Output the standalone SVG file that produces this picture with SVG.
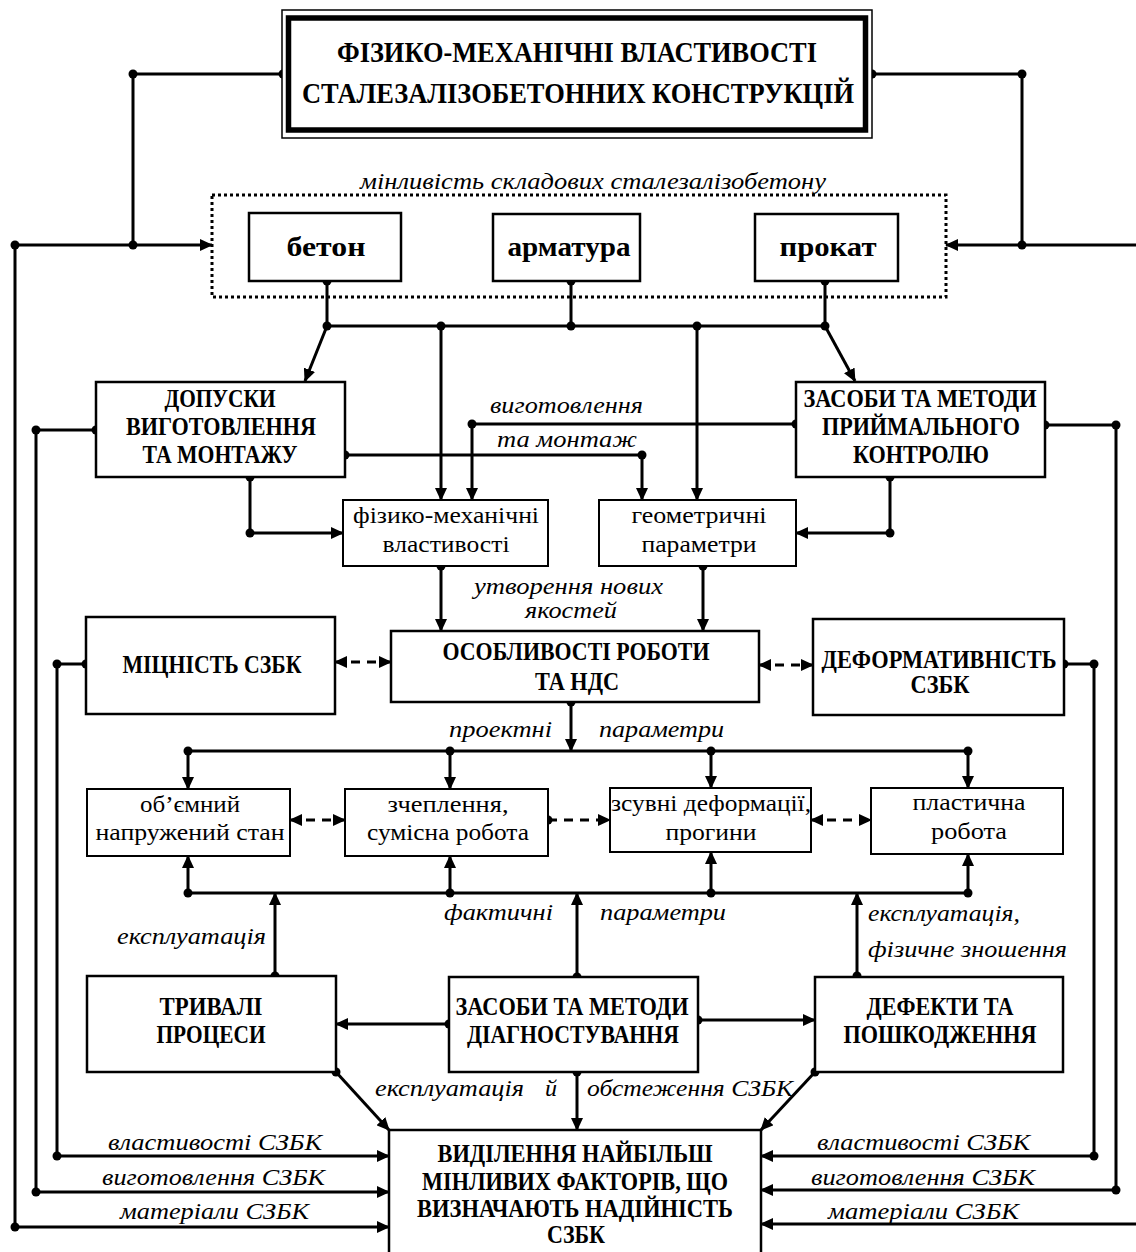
<svg xmlns="http://www.w3.org/2000/svg" width="1136" height="1252" viewBox="0 0 1136 1252">
<defs>
<marker id="ah" viewBox="0 0 13 12" refX="12" refY="6" markerWidth="13" markerHeight="12" markerUnits="userSpaceOnUse" orient="auto-start-reverse"><path d="M0,0 L13,6 L0,12 z" fill="#000"/></marker>
<style>
.box{fill:#fff;stroke:#000;stroke-width:2.5}
.sbox{fill:#fff;stroke:#000;stroke-width:2}
.ln{fill:none;stroke:#000;stroke-width:3}
.ar{marker-end:url(#ah)}
.dd{stroke-dasharray:9 7;marker-start:url(#ah);marker-end:url(#ah)}
.d1{stroke-dasharray:9 7;marker-end:url(#ah)}
.tb{font-family:"Liberation Serif",serif;font-weight:bold;font-size:25px;text-anchor:middle;fill:#000}
.tt{font-family:"Liberation Serif",serif;font-weight:bold;font-size:30px;text-anchor:middle;fill:#000}
.tl{font-family:"Liberation Serif",serif;font-weight:bold;font-size:28px;text-anchor:middle;fill:#000}
.tr{font-family:"Liberation Serif",serif;font-size:24px;text-anchor:middle;fill:#000}
.ti{font-family:"Liberation Serif",serif;font-style:italic;font-size:24px;fill:#000}
.dot{fill:#000}
</style>
</defs>
<rect width="1136" height="1252" fill="#fff"/>

<g id="connectors">
<path class="ln" d="M283,74 H133 V245"/>
<path class="ln" d="M872,74 H1022 V245"/>
<path class="ln" d="M15,245 V1227"/>
<path class="ln ar" d="M15,245 H212"/>
<path class="ln ar" d="M15,1227 H389"/>
<path class="ln ar" d="M1140,245 H946"/>
<path class="ln ar" d="M1140,1224 H761"/>
<path class="ln ar" d="M96,430 H36 V1192 H389"/>
<path class="ln ar" d="M86,664 H57 V1156 H389"/>
<path class="ln ar" d="M1064,664 H1094 V1156 H761"/>
<path class="ln ar" d="M1045,425 H1116 V1190 H761"/>

<path class="ln" d="M327,281 V326 M571,281 V326 M825,281 V326 M327,326 H825"/>
<path class="ln ar" d="M327,326 L305,381"/>
<path class="ln ar" d="M825,326 L855,381"/>
<path class="ln ar" d="M441,326 V500"/>
<path class="ln ar" d="M697,326 V500"/>
<path class="ln ar" d="M796,424 H472 V500"/>
<path class="ln ar" d="M345,455 H642 V500"/>
<path class="ln ar" d="M250,477 V533 H343"/>
<path class="ln ar" d="M890,477 V533 H796"/>
<path class="ln ar" d="M441,566 V631"/>
<path class="ln ar" d="M703,566 V631"/>
<path class="ln dd" d="M335,662 H391"/>
<path class="ln dd" d="M759,665 H813"/>
<path class="ln ar" d="M571,702 V751"/>
<path class="ln" d="M188,751 H968"/>
<path class="ln ar" d="M188,751 V789"/>
<path class="ln ar" d="M450,751 V789"/>
<path class="ln ar" d="M711,751 V788"/>
<path class="ln ar" d="M968,751 V788"/>
<path class="ln dd" d="M290,820 H345"/>
<path class="ln d1" d="M548,820 H610"/>
<path class="ln dd" d="M811,820 H871"/>
<path class="ln" d="M188,893 H968"/>
<path class="ln ar" d="M188,893 V856"/>
<path class="ln ar" d="M450,893 V856"/>
<path class="ln ar" d="M711,893 V852"/>
<path class="ln ar" d="M968,893 V854"/>
<path class="ln ar" d="M275,976 V893"/>
<path class="ln ar" d="M577,977 V893"/>
<path class="ln ar" d="M857,976 V893"/>
<path class="ln ar" d="M449,1024 H336"/>
<path class="ln ar" d="M698,1020 H815"/>
<path class="ln ar" d="M577,1072 V1130"/>
<path class="ln ar" d="M336,1072 L389,1130"/>
<path class="ln ar" d="M815,1072 L761,1130"/>

<g class="dot">
<circle cx="283" cy="74" r="4.5"/><circle cx="133" cy="74" r="4.5"/><circle cx="133" cy="245" r="4.5"/>
<circle cx="872" cy="74" r="4.5"/><circle cx="1022" cy="74" r="4.5"/><circle cx="1022" cy="245" r="4.5"/>
<circle cx="15" cy="245" r="4.5"/><circle cx="15" cy="1227" r="4.5"/>
<circle cx="96" cy="430" r="4.5"/><circle cx="36" cy="430" r="4.5"/><circle cx="36" cy="1192" r="4.5"/>
<circle cx="86" cy="664" r="4.5"/><circle cx="57" cy="664" r="4.5"/><circle cx="57" cy="1156" r="4.5"/>
<circle cx="1064" cy="664" r="4.5"/><circle cx="1094" cy="664" r="4.5"/><circle cx="1094" cy="1156" r="4.5"/>
<circle cx="1045" cy="425" r="4.5"/><circle cx="1116" cy="425" r="4.5"/><circle cx="1116" cy="1190" r="4.5"/>
<circle cx="327" cy="281" r="4.5"/><circle cx="571" cy="281" r="4.5"/><circle cx="825" cy="281" r="4.5"/>
<circle cx="327" cy="326" r="4.5"/><circle cx="441" cy="326" r="4.5"/><circle cx="571" cy="326" r="4.5"/><circle cx="697" cy="326" r="4.5"/><circle cx="825" cy="326" r="4.5"/>
<circle cx="796" cy="424" r="4.5"/><circle cx="472" cy="424" r="4.5"/>
<circle cx="345" cy="455" r="4.5"/><circle cx="642" cy="455" r="4.5"/>
<circle cx="250" cy="477" r="4.5"/><circle cx="250" cy="533" r="4.5"/>
<circle cx="890" cy="477" r="4.5"/><circle cx="890" cy="533" r="4.5"/>
<circle cx="441" cy="566" r="4.5"/><circle cx="703" cy="566" r="4.5"/>
<circle cx="571" cy="702" r="4.5"/>
<circle cx="188" cy="751" r="4.5"/><circle cx="450" cy="751" r="4.5"/><circle cx="711" cy="751" r="4.5"/><circle cx="968" cy="751" r="4.5"/>
<circle cx="548" cy="820" r="4.5"/>
<circle cx="188" cy="893" r="4.5"/><circle cx="450" cy="893" r="4.5"/><circle cx="711" cy="893" r="4.5"/><circle cx="968" cy="893" r="4.5"/>
<circle cx="275" cy="976" r="4.5"/><circle cx="577" cy="977" r="4.5"/><circle cx="857" cy="976" r="4.5"/>
<circle cx="449" cy="1024" r="4.5"/><circle cx="698" cy="1020" r="4.5"/>
<circle cx="577" cy="1072" r="4.5"/><circle cx="336" cy="1072" r="4.5"/><circle cx="815" cy="1072" r="4.5"/>
</g>

<g id="labels">
<text class="ti" x="490" y="413" textLength="153" lengthAdjust="spacingAndGlyphs">виготовлення</text>
<text class="ti" x="497" y="447" textLength="140" lengthAdjust="spacingAndGlyphs">та монтаж</text>
<text class="ti" x="474" y="594" textLength="189" lengthAdjust="spacingAndGlyphs">утворення нових</text>
<text class="ti" x="525" y="618" textLength="92" lengthAdjust="spacingAndGlyphs">якостей</text>
<text class="ti" x="449" y="737" textLength="103" lengthAdjust="spacingAndGlyphs">проектні</text>
<text class="ti" x="599" y="737" textLength="125" lengthAdjust="spacingAndGlyphs">параметри</text>
<text class="ti" x="444" y="920" textLength="109" lengthAdjust="spacingAndGlyphs">фактичні</text>
<text class="ti" x="600" y="920" textLength="126" lengthAdjust="spacingAndGlyphs">параметри</text>
<text class="ti" x="117" y="944" textLength="149" lengthAdjust="spacingAndGlyphs">експлуатація</text>
<text class="ti" x="868" y="921" textLength="152" lengthAdjust="spacingAndGlyphs">експлуатація,</text>
<text class="ti" x="868" y="957" textLength="199" lengthAdjust="spacingAndGlyphs">фізичне зношення</text>
<text class="ti" x="375" y="1096" textLength="149" lengthAdjust="spacingAndGlyphs">експлуатація</text>
<text class="ti" x="545" y="1096">й</text>
<text class="ti" x="587" y="1096" textLength="206" lengthAdjust="spacingAndGlyphs">обстеження СЗБК</text>
<text class="ti" x="108" y="1150" textLength="214" lengthAdjust="spacingAndGlyphs">властивості СЗБК</text>
<text class="ti" x="102" y="1185" textLength="223" lengthAdjust="spacingAndGlyphs">виготовлення СЗБК</text>
<text class="ti" x="120" y="1219" textLength="189" lengthAdjust="spacingAndGlyphs">матеріали СЗБК</text>
<text class="ti" x="817" y="1150" textLength="213" lengthAdjust="spacingAndGlyphs">властивості СЗБК</text>
<text class="ti" x="811" y="1185" textLength="224" lengthAdjust="spacingAndGlyphs">виготовлення СЗБК</text>
<text class="ti" x="828" y="1219" textLength="191" lengthAdjust="spacingAndGlyphs">матеріали СЗБК</text>
</g>
</g>

<g id="title">
<rect x="282" y="10" width="590" height="128" fill="#fff" stroke="#000" stroke-width="1.5"/>
<rect x="288.5" y="18" width="577" height="112" fill="none" stroke="#000" stroke-width="5.5"/>
<text class="tt" x="577" y="62" textLength="480" lengthAdjust="spacingAndGlyphs">ФІЗИКО-МЕХАНІЧНІ ВЛАСТИВОСТІ</text>
<text class="tt" x="578" y="103" textLength="552" lengthAdjust="spacingAndGlyphs">СТАЛЕЗАЛІЗОБЕТОННИХ КОНСТРУКЦІЙ</text>
</g>

<g id="components">
<rect x="212" y="195" width="734" height="102" fill="none" stroke="#000" stroke-width="3" stroke-dasharray="3 3"/>
<text class="ti" x="360" y="189" textLength="466" lengthAdjust="spacingAndGlyphs">мінливість складових сталезалізобетону</text>
</g>
<g id="beton"><rect class="box" x="249" y="213" width="152" height="68"/><text class="tl" x="326" y="256" textLength="79" lengthAdjust="spacingAndGlyphs">бетон</text></g>
<g id="armatura"><rect class="box" x="493" y="214" width="147" height="67"/><text class="tl" x="569" y="256" textLength="123" lengthAdjust="spacingAndGlyphs">арматура</text></g>
<g id="prokat"><rect class="box" x="755" y="214" width="143" height="67"/><text class="tl" x="828" y="256" textLength="97" lengthAdjust="spacingAndGlyphs">прокат</text></g>

<g id="dopusky"><rect class="box" x="96" y="382" width="249" height="95"/>
<text class="tb" x="220" y="407" textLength="111" lengthAdjust="spacingAndGlyphs">ДОПУСКИ</text>
<text class="tb" x="221" y="435" textLength="190" lengthAdjust="spacingAndGlyphs">ВИГОТОВЛЕННЯ</text>
<text class="tb" x="220" y="463" textLength="155" lengthAdjust="spacingAndGlyphs">ТА МОНТАЖУ</text></g>

<g id="kontrol"><rect class="box" x="796" y="382" width="249" height="95"/>
<text class="tb" x="920" y="407" textLength="233" lengthAdjust="spacingAndGlyphs">ЗАСОБИ ТА МЕТОДИ</text>
<text class="tb" x="921" y="435" textLength="198" lengthAdjust="spacingAndGlyphs">ПРИЙМАЛЬНОГО</text>
<text class="tb" x="921" y="463" textLength="136" lengthAdjust="spacingAndGlyphs">КОНТРОЛЮ</text></g>

<g id="fizmeh"><rect class="sbox" x="343" y="500" width="205" height="66"/>
<text class="tr" x="446" y="523" textLength="186" lengthAdjust="spacingAndGlyphs">фізико-механічні</text>
<text class="tr" x="446" y="552" textLength="127" lengthAdjust="spacingAndGlyphs">властивості</text></g>

<g id="geom"><rect class="sbox" x="599" y="500" width="197" height="66"/>
<text class="tr" x="699" y="523" textLength="135" lengthAdjust="spacingAndGlyphs">геометричні</text>
<text class="tr" x="699" y="552" textLength="115" lengthAdjust="spacingAndGlyphs">параметри</text></g>

<g id="mitsnist"><rect class="box" x="86" y="617" width="249" height="97"/>
<text class="tb" x="212" y="673" textLength="179" lengthAdjust="spacingAndGlyphs">МІЦНІСТЬ СЗБК</text></g>

<g id="osoblyvosti"><rect class="box" x="391" y="631" width="368" height="71"/>
<text class="tb" x="576" y="660" textLength="267" lengthAdjust="spacingAndGlyphs">ОСОБЛИВОСТІ РОБОТИ</text>
<text class="tb" x="577" y="690" textLength="84" lengthAdjust="spacingAndGlyphs">ТА НДС</text></g>

<g id="deform"><rect class="box" x="813" y="619" width="251" height="96"/>
<text class="tb" x="939" y="668" textLength="235" lengthAdjust="spacingAndGlyphs">ДЕФОРМАТИВНІСТЬ</text>
<text class="tb" x="940" y="693" textLength="59" lengthAdjust="spacingAndGlyphs">СЗБК</text></g>

<g id="obiemnyi"><rect class="sbox" x="87" y="789" width="203" height="67"/>
<text class="tr" x="190" y="812" textLength="100" lengthAdjust="spacingAndGlyphs">об’ємний</text>
<text class="tr" x="190" y="840" textLength="189" lengthAdjust="spacingAndGlyphs">напружений стан</text></g>

<g id="zcheplennia"><rect class="sbox" x="345" y="789" width="203" height="67"/>
<text class="tr" x="448" y="812" textLength="121" lengthAdjust="spacingAndGlyphs">зчеплення,</text>
<text class="tr" x="448" y="840" textLength="162" lengthAdjust="spacingAndGlyphs">сумісна робота</text></g>

<g id="zsuvni"><rect class="sbox" x="610" y="788" width="201" height="64"/>
<text class="tr" x="711" y="811" textLength="200" lengthAdjust="spacingAndGlyphs">зсувні деформації,</text>
<text class="tr" x="711" y="840" textLength="91" lengthAdjust="spacingAndGlyphs">прогини</text></g>

<g id="plastychna"><rect class="sbox" x="871" y="788" width="192" height="66"/>
<text class="tr" x="969" y="810" textLength="113" lengthAdjust="spacingAndGlyphs">пластична</text>
<text class="tr" x="969" y="839" textLength="76" lengthAdjust="spacingAndGlyphs">робота</text></g>

<g id="tryvali"><rect class="box" x="87" y="976" width="249" height="96"/>
<text class="tb" x="211" y="1015" textLength="103" lengthAdjust="spacingAndGlyphs">ТРИВАЛІ</text>
<text class="tb" x="211" y="1043" textLength="109" lengthAdjust="spacingAndGlyphs">ПРОЦЕСИ</text></g>

<g id="diagnost"><rect class="box" x="449" y="977" width="249" height="95"/>
<text class="tb" x="572" y="1015" textLength="233" lengthAdjust="spacingAndGlyphs">ЗАСОБИ ТА МЕТОДИ</text>
<text class="tb" x="573" y="1043" textLength="212" lengthAdjust="spacingAndGlyphs">ДІАГНОСТУВАННЯ</text></g>

<g id="defekty"><rect class="box" x="815" y="977" width="248" height="95"/>
<text class="tb" x="940" y="1015" textLength="147" lengthAdjust="spacingAndGlyphs">ДЕФЕКТИ ТА</text>
<text class="tb" x="940" y="1043" textLength="193" lengthAdjust="spacingAndGlyphs">ПОШКОДЖЕННЯ</text></g>

<g id="vydilennia"><rect class="box" x="389" y="1130" width="372" height="135"/>
<text class="tb" x="575" y="1162" textLength="275" lengthAdjust="spacingAndGlyphs">ВИДІЛЕННЯ НАЙБІЛЬШ</text>
<text class="tb" x="575" y="1190" textLength="306" lengthAdjust="spacingAndGlyphs">МІНЛИВИХ ФАКТОРІВ, ЩО</text>
<text class="tb" x="575" y="1217" textLength="316" lengthAdjust="spacingAndGlyphs">ВИЗНАЧАЮТЬ НАДІЙНІСТЬ</text>
<text class="tb" x="576" y="1243" textLength="58" lengthAdjust="spacingAndGlyphs">СЗБК</text></g>
</svg>
